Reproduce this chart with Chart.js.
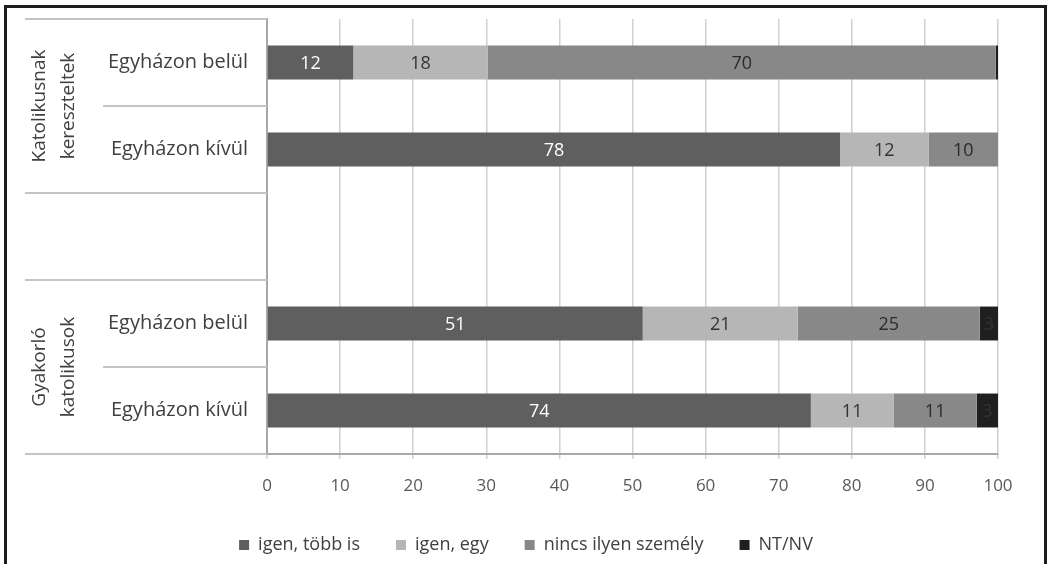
<!DOCTYPE html>
<html>
<head>
<meta charset="utf-8">
<script src="https://cdn.jsdelivr.net/npm/chart.js@4"></script>
<style>
  html, body { margin: 0; padding: 0; background: #fff; }
  #wrap { position: relative; width: 1048px; height: 564px; overflow: hidden; }
  #frame {
    position: absolute; left: 4px; top: 5px; width: 1043px; height: 700px;
    box-sizing: border-box; border: 3px solid #1c1c1c; border-bottom: none;
    pointer-events: none;
  }
  canvas { position: absolute; left: 0; top: 0; }
</style>
</head>
<body>
<div id="wrap">
  <canvas id="chart" width="1048" height="564"></canvas>
  <div id="frame"></div>
</div>
<script>
// kategóriák (üres sor a két csoport között)
const categories = ['Egyházon belül', 'Egyházon kívül', '', 'Egyházon belül', 'Egyházon kívül'];
const groups = [
    { label: ['Katolikusnak', 'kereszteltek'], from: 0, to: 1 },
    { label: ['Gyakorló', 'katolikusok'], from: 3, to: 4 }
];
const seriesNames = ['igen, több is', 'igen, egy', 'nincs ilyen személy', 'NT/NV'];
const seriesColors = ['#5f5f5f', '#b6b6b6', '#888888', '#1f1f1f'];
const labelColors = ['#ffffff', '#333333', '#2b2b2b', '#333333'];

const igenTobb = [11.8, 78.4, null, 51.4, 74.4];
const igenEgy  = [18.4, 12.1, null, 21.2, 11.3];
const nincs    = [69.5, 9.5, null, 24.9, 11.4];
const ntnv     = [0.3, 0, null, 2.5, 2.9];
const xTicks   = [0, 10, 20, 30, 40, 50, 60, 70, 80, 90, 100];

const FONT = '"Open Sans"';

// értékek a sávok közepére
const barLabels = {
    id: 'barLabels',
    afterDatasetsDraw(chart) {
        const ctx = chart.ctx;
        ctx.save();
        ctx.font = '18px ' + FONT;
        ctx.textAlign = 'center';
        ctx.textBaseline = 'middle';
        chart.data.datasets.forEach((ds, i) => {
            chart.getDatasetMeta(i).data.forEach((el, j) => {
                const v = ds.data[j];
                if (v == null || v < 2) return;
                ctx.fillStyle = labelColors[i];
                ctx.fillText(Math.round(v), (el.x + el.base) / 2, el.y + 1);
            });
        });
        ctx.restore();
    }
};

// többszintű kategória tengely: elválasztó vonalak + csoport feliratok
const groupAxis = {
    id: 'groupAxis',
    afterDraw(chart) {
        const y = chart.scales.y;
        const ctx = chart.ctx;
        const left = chart.chartArea.left;
        const pts = categories.map((c, i) => y.getPixelForValue(i));
        const half = (pts[1] - pts[0]) / 2;
        const bounds = pts.map(p => p - half).concat([pts[pts.length - 1] + half]);
        const inner = [];
        groups.forEach(g => { for (let k = g.from + 1; k <= g.to; k++) inner.push(k); });
        ctx.save();
        ctx.strokeStyle = '#c4c4c4';
        ctx.lineWidth = 2;
        bounds.forEach((b, k) => {
            const x0 = inner.includes(k) ? left - 164 : left - 242;
            ctx.beginPath();
            ctx.moveTo(x0, Math.round(b));
            ctx.lineTo(left, Math.round(b));
            ctx.stroke();
        });
        ctx.fillStyle = '#404040';
        ctx.font = '19px ' + FONT;
        ctx.textAlign = 'center';
        ctx.textBaseline = 'middle';
        groups.forEach(g => {
            const cy = (pts[g.from] + pts[g.to]) / 2;
            g.label.forEach((t, n) => {
                ctx.save();
                ctx.translate(left - 227 + n * 29, cy);
                ctx.rotate(-Math.PI / 2);
                ctx.fillText(t, 0, 0);
                ctx.restore();
            });
        });
        ctx.restore();
    }
};

new Chart(document.getElementById('chart'), {
    type: 'bar',
    data: {
        labels: categories,
        datasets: [igenTobb, igenEgy, nincs, ntnv].map((d, i) => ({
            label: seriesNames[i],
            data: d,
            backgroundColor: seriesColors[i],
            borderWidth: 0,
            categoryPercentage: 0.39,
            barPercentage: 1
        }))
    },
    options: {
        indexAxis: 'y',
        responsive: false,
        animation: false,
        layout: { padding: { left: 54, right: 50, top: 19, bottom: 0 } },
        scales: {
            x: {
                stacked: true, min: 0, max: 100,
                afterBuildTicks: s => { s.ticks = xTicks.map(v => ({ value: v })); },
                afterFit: s => { s.height = 46; },
                grid: { color: '#d0d0d0', lineWidth: 1.5, tickLength: 5 },
                border: { color: '#a8a8a8', width: 2 },
                ticks: { color: '#595959', font: { family: 'Open Sans', size: 17 }, padding: 17 }
            },
            y: {
                stacked: true,
                afterFit: s => { s.width = 213; s.paddingTop = 0; s.paddingBottom = 0; },
                grid: { display: false, drawTicks: false },
                border: { color: '#a8a8a8', width: 2 },
                ticks: { color: '#404040', font: { family: 'Open Sans', size: 20 }, padding: 19 }
            }
        },
        plugins: {
            legend: {
                position: 'bottom',
                labels: {
                    boxWidth: 10, boxHeight: 10, padding: 36,
                    color: '#404040', font: { family: 'Open Sans', size: 18 }
                }
            },
            tooltip: { enabled: false }
        }
    },
    plugins: [barLabels, groupAxis]
});
</script>
</body>
</html>
